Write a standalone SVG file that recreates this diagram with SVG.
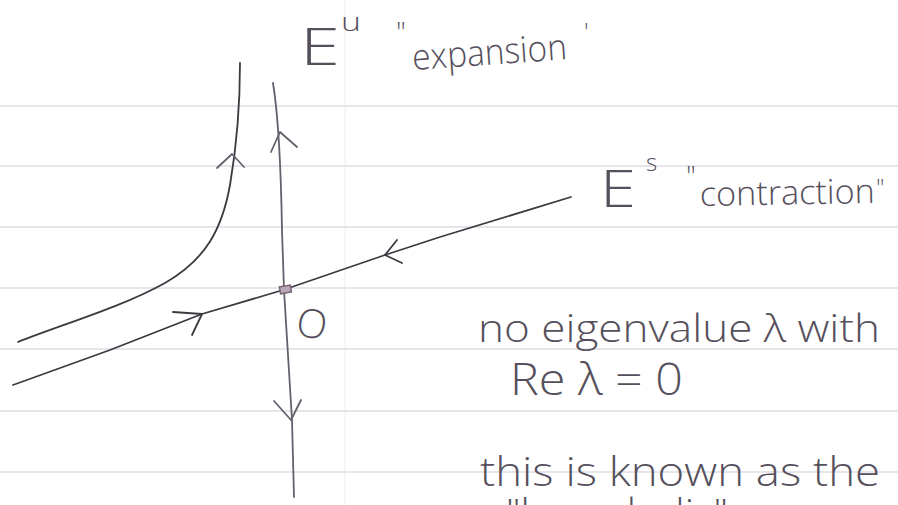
<svg xmlns="http://www.w3.org/2000/svg" width="898" height="505" viewBox="0 0 898 505">
<style>
.rule{stroke:#e5e5ea;stroke-width:2;fill:none}
.pen{fill:none;stroke:#66606e;stroke-width:1.8;stroke-linecap:round;stroke-linejoin:round}
.ink{fill:none;stroke:#3c3a40;stroke-width:1.8;stroke-linecap:round;stroke-linejoin:round}
.hand{font-family:"Open Sans","Liberation Sans",sans-serif;font-weight:300;fill:#55505c}
</style>
<rect width="898" height="505" fill="#ffffff"/>
<g id="paper">
<line class="rule" x1="345" y1="0" x2="345" y2="505" style="stroke:#f3f3f5;stroke-width:1.5"/>
<line class="rule" x1="0" y1="106" x2="898" y2="106"/>
<line class="rule" x1="0" y1="166" x2="898" y2="166"/>
<line class="rule" x1="0" y1="227" x2="898" y2="227"/>
<line class="rule" x1="0" y1="288" x2="898" y2="288"/>
<line class="rule" x1="0" y1="349" x2="898" y2="349"/>
<line class="rule" x1="0" y1="411" x2="898" y2="411"/>
<line class="rule" x1="0" y1="472" x2="898" y2="472"/>
</g>
<g id="connectors">
<path id="unstable-axis" class="pen" d="M273,83 C279,120 281,170 282,230 L284,290 L292,420 L294,497"/>
<path class="pen" d="M271,152 L280,132 L297,147"/>
<path class="pen" d="M274,401 L291,420 L301,400"/>
<path id="orbit" class="ink" d="M240,63 C240,110 236,150 230,185 C222,230 205,260 165,283 C120,308 60,325 18,342"/>
<path class="pen" d="M217,168 L232,154 L244,167"/>
<path id="stable-axis" class="ink" d="M571,197 L440,237 L385,255 L283,290 L202,314 L110,350 L13,385"/>
<path class="ink" d="M397,240 L385,255 L402,263"/>
<path class="ink" d="M173,312 L202,314 L192,335"/>
<rect x="280" y="286" width="11" height="7" fill="#b9a8b8" stroke="#7a6474" stroke-width="1.5" transform="rotate(-10 285 290)"/>
</g>
<g id="label-origin">
<text class="hand" x="297" y="337" font-size="40" transform="rotate(10 307 322)">O</text>
</g>
<g id="label-Eu">
<text class="hand" x="300" y="65" font-size="52" textLength="40" lengthAdjust="spacingAndGlyphs">E</text>
<text class="hand" x="341" y="31" font-size="26" textLength="20" lengthAdjust="spacingAndGlyphs">u</text>
<text class="hand" x="396" y="42" font-size="28">"</text>
<text class="hand" x="413" y="70" font-size="36" textLength="155" lengthAdjust="spacingAndGlyphs" transform="rotate(-4 413 70)">expansion</text>
<text class="hand" x="584" y="40" font-size="24">'</text>
</g>
<g id="label-Es">
<text class="hand" x="600" y="207" font-size="52" textLength="36" lengthAdjust="spacingAndGlyphs">E</text>
<text class="hand" x="646" y="171" font-size="24">s</text>
<text class="hand" x="686" y="186" font-size="28">"</text>
<text class="hand" x="700" y="206" font-size="34" textLength="175" lengthAdjust="spacingAndGlyphs" transform="rotate(-1 700 206)">contraction</text>
<text class="hand" x="876" y="196" font-size="24">"</text>
</g>
<g id="note">
<text class="hand" x="478" y="342" font-size="38" textLength="402" lengthAdjust="spacingAndGlyphs">no eigenvalue λ with</text>
<text class="hand" x="510" y="395" font-size="44" textLength="173" lengthAdjust="spacingAndGlyphs">Re λ = 0</text>
<text class="hand" x="480" y="486" font-size="40" textLength="400" lengthAdjust="spacingAndGlyphs">this is known as the</text>
<text class="hand" x="506" y="528" font-size="40" textLength="222" lengthAdjust="spacingAndGlyphs">"hyperbolic"</text>
</g>
</svg>
